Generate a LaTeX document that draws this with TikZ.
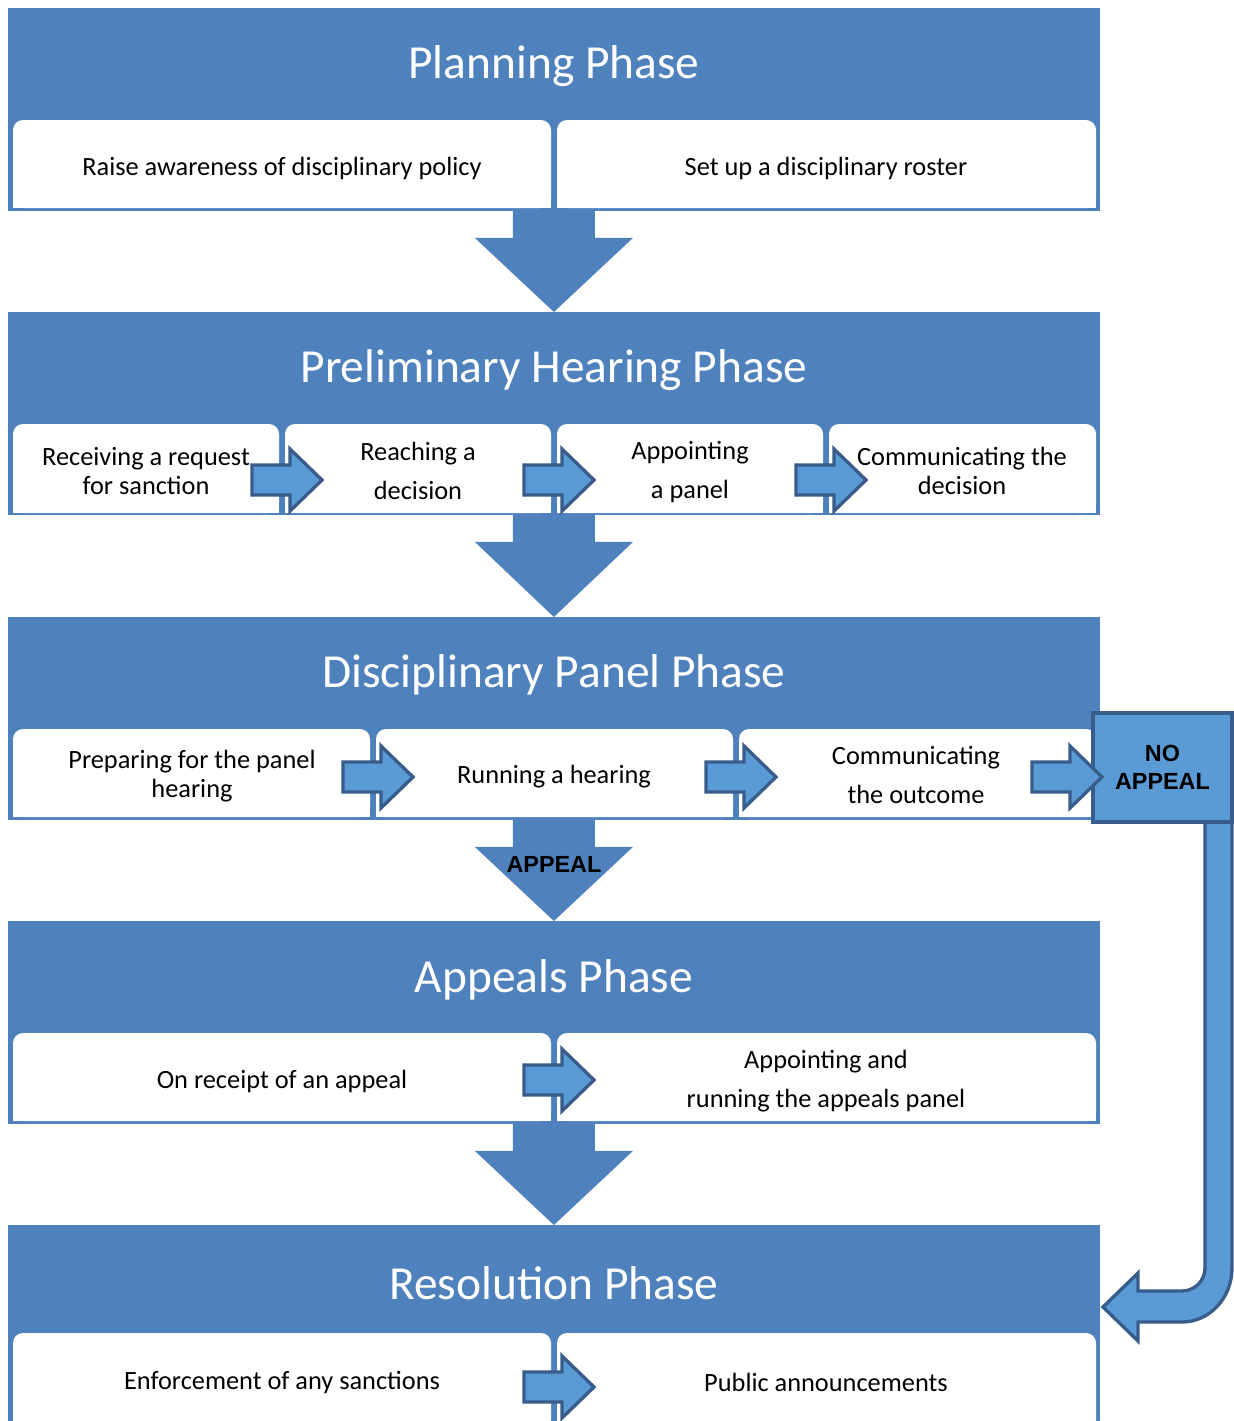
\documentclass[tikz,border=0pt]{standalone}
\usepackage{fontspec}
\setmainfont{Carlito}
\newfontfamily\arialfont{Liberation Sans}
\usetikzlibrary{calc}

\definecolor{phaseblue}{RGB}{79,129,189}
\definecolor{arrowfill}{RGB}{91,155,213}
\definecolor{arrowline}{RGB}{56,93,138}

\tikzset{
  panel/.style={fill=phaseblue, inner sep=0, outer sep=0, anchor=north west,
    minimum width=21.84cm, minimum height=4.06cm},
  heading/.style={text=white, font=\fontsize{27}{32}\selectfont},
  cardtext/.style={align=center, font=\fontsize{15}{16.5}\selectfont},
  loosetext/.style={align=center, font=\fontsize{15}{22}\selectfont},
  blockarrow/.style={fill=arrowfill, draw=arrowline, line width=1.9pt, line join=miter},
  boldlabel/.style={align=center, font=\arialfont\bfseries\fontsize{13.3}{15.9}\selectfont}
}

% white card with rounded top corners
\newcommand{\card}[4]{%
  \fill[white, rounded corners=0.2cm] (#1,#3) rectangle (#2,#4);
  \fill[white] (#1,{#3+20}) rectangle (#2,#4);
}
% small arrow across a card boundary
\newcommand{\steparrow}[1]{%
  \draw[blockarrow] ([shift={(-30,-15)}]#1) -- ([shift={(8,-15)}]#1) -- ([shift={(8,-31)}]#1)
    -- ([shift={(40,0)}]#1) -- ([shift={(8,31)}]#1) -- ([shift={(8,15)}]#1)
    -- ([shift={(-30,15)}]#1) -- cycle;
}
% big arrow from one phase to the next
\newcommand{\phasearrow}[2]{%
  \fill[phaseblue] ([shift={(-41,-1)}]#1.south) -- ([shift={(-41,27)}]#1.south)
    -- ([shift={(-79,27)}]#1.south) -- (#2.north) -- ([shift={(79,27)}]#1.south)
    -- ([shift={(41,27)}]#1.south) -- ([shift={(41,-1)}]#1.south) -- cycle;
}

\begin{document}
\begin{tikzpicture}[x=0.02cm, y=-0.02cm]
  \useasboundingbox (0,0) rectangle (1234,1421);

  \node[panel] (plan) at (8,8) {};
  \node[panel] (prelim) at (8,312) {};
  \node[panel] (disc) at (8,617) {};
  \node[panel] (appeals) at (8,921) {};
  \node[panel] (resol) at (8,1225) {};

  \node[heading] (planhead) at ([shift={(0,58)}]plan.north) {Planning Phase};
  \node[heading] (prelimhead) at ([shift={(0,58)}]prelim.north) {Preliminary Hearing Phase};
  \node[heading] (dischead) at ([shift={(0,58)}]disc.north) {Disciplinary Panel Phase};
  \node[heading] (appealshead) at ([shift={(0,59)}]appeals.north) {Appeals Phase};
  \node[heading] (resolhead) at ([shift={(0,58)}]resol.north) {Resolution Phase};

  \phasearrow{plan}{prelim}
  \phasearrow{prelim}{disc}
  \phasearrow{disc}{appeals}
  \phasearrow{appeals}{resol}
  \node[boldlabel] (appeal) at (554,864) {APPEAL};

  % planning
  \card{13}{551}{120}{208}
  \card{557}{1096}{120}{208}
  \node[cardtext] (raise) at (282,168) {Raise awareness of disciplinary policy};
  \node[cardtext] (roster) at (826,168) {Set up a disciplinary roster};

  % preliminary hearing
  \card{13}{279}{424}{513}
  \card{285}{551}{424}{513}
  \card{557}{823}{424}{513}
  \card{829}{1096}{424}{513}
  \node[cardtext] (request) at (146,471) {Receiving a request\\for sanction};
  \node[loosetext] (decide) at (418,471) {Reaching a\\decision};
  \node[loosetext] (appoint) at (690,472) {Appointing\\a panel};
  \node[cardtext] (tell) at (962,471) {Communicating the\\decision};
  \coordinate (pa) at (282,480);
  \coordinate (pb) at (554,480);
  \coordinate (pc) at (826,480);
  \steparrow{pa}
  \steparrow{pb}
  \steparrow{pc}

  % disciplinary panel
  \card{13}{370}{729}{817}
  \card{376}{733}{729}{817}
  \card{739}{1096}{729}{817}
  \node[cardtext] (prepare) at (192,776) {Preparing for the panel\\hearing};
  \node[cardtext] (hearing) at (554,777) {Running a hearing};
  \node[loosetext] (outcome) at (916,775) {Communicating\\the outcome};

  \draw[blockarrow] (1205,818) -- (1205,1268)
    arc[start angle=0, end angle=90, x radius=23, y radius=23]
    -- (1138,1291) -- (1138,1273) -- (1103,1307) -- (1138,1341) -- (1138,1322)
    -- (1182,1322) arc[start angle=90, end angle=0, x radius=50, y radius=54]
    -- (1232,818) -- cycle;
  \node[boldlabel, draw=arrowline, fill=arrowfill, line width=1.9pt,
    minimum width=2.78cm, minimum height=2.18cm] (noappeal) at (1162.5,767.5) {NO\\APPEAL};

  \coordinate (da) at (373,777);
  \coordinate (db) at (736,777);
  \coordinate (dc) at (1062,777);
  \steparrow{da}
  \steparrow{db}
  \steparrow{dc}

  % appeals
  \card{13}{551}{1033}{1121}
  \card{557}{1096}{1033}{1121}
  \node[cardtext] (receipt) at (282,1081) {On receipt of an appeal};
  \node[loosetext] (runappeal) at (826,1081) {Appointing and\\running the appeals panel};
  \coordinate (aa) at (554,1080);
  \steparrow{aa}

  % resolution
  \card{13}{551}{1333}{1430}
  \card{557}{1096}{1333}{1430}
  \node[cardtext] (enforce) at (282,1382) {Enforcement of any sanctions};
  \node[cardtext] (announce) at (826,1382) {Public announcements};
  \coordinate (ra) at (554,1387);
  \steparrow{ra}
\end{tikzpicture}
\end{document}
